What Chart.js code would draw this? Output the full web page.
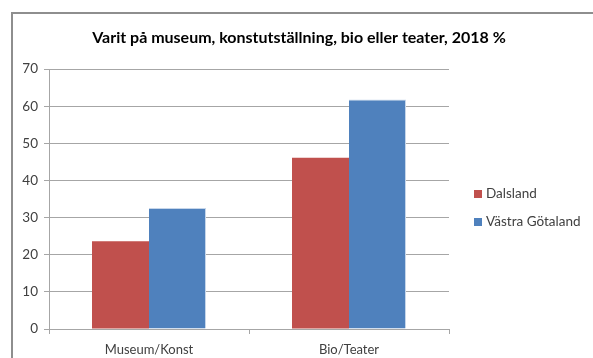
<!DOCTYPE html>
<html>
<head>
<meta charset="utf-8">
<script src="https://cdn.jsdelivr.net/npm/chart.js@4.4.1/dist/chart.umd.min.js"></script>
<style>
    html, body { margin: 0; padding: 0; background: #fff; }
    #wrap { position: relative; width: 593px; height: 358px; overflow: hidden; }
    #frame { position: absolute; left: 11px; top: 12px; width: 700px; height: 400px;
             border-left: 2px solid #8e8e8e; border-top: 2px solid #8e8e8e; box-sizing: border-box; }
    canvas { position: absolute; left: 0; top: 0; }
</style>
</head>
<body>
<div id="wrap">
    <div id="frame"></div>
    <canvas id="barChart" width="593" height="358"></canvas>
</div>
<script>
const titleText = 'Varit på museum, konstutställning, bio eller teater, 2018 %';
const categories = ['Museum/Konst', 'Bio/Teater'];
const dalsland = [23.6, 46.1];
const vastraGotaland = [32.6, 61.8];
const seriesNames = ['Dalsland', 'Västra Götaland'];
const seriesColors = ['#c0504d', '#4f81bd'];

const fontFamily = 'Lato, "Open Sans", sans-serif';
const textColor = '#404040';
const gridColor = '#a6a6a6';

// title centred on the whole frame, not just the plot box
const frameTitle = {
    id: 'frameTitle',
    afterDraw(chart) {
        const ctx = chart.ctx;
        ctx.save();
        ctx.font = 'bold 16px ' + fontFamily;
        ctx.fillStyle = '#000';
        ctx.textAlign = 'center';
        ctx.textBaseline = 'middle';
        ctx.fillText(chart.options.plugins.frameTitle.text, 299, 38);
        ctx.restore();
    }
};

// legend drawn to the right of the plot, one row per dataset
const sideLegend = {
    id: 'sideLegend',
    afterDraw(chart) {
        const ctx = chart.ctx;
        ctx.save();
        ctx.font = '13.5px ' + fontFamily;
        ctx.textBaseline = 'middle';
        ctx.textAlign = 'left';
        chart.data.datasets.forEach((ds, i) => {
            const y = 194 + i * 28;
            ctx.fillStyle = ds.backgroundColor;
            ctx.fillRect(474, y - 4, 8, 8);
            ctx.fillStyle = textColor;
            ctx.fillText(ds.label, 486, y);
        });
        ctx.restore();
    }
};

const ctx = document.getElementById('barChart').getContext('2d');
new Chart(ctx, {
    type: 'bar',
    data: {
        labels: categories,
        datasets: [
            {
                label: seriesNames[0],
                data: dalsland,
                backgroundColor: seriesColors[0],
                barPercentage: 1,
                categoryPercentage: 0.57
            },
            {
                label: seriesNames[1],
                data: vastraGotaland,
                backgroundColor: seriesColors[1],
                borderColor: '#c6d6ea',
                borderWidth: { top: 1, right: 1, left: 0, bottom: 0 },
                barPercentage: 1,
                categoryPercentage: 0.57
            }
        ]
    },
    options: {
        responsive: false,
        animation: false,
        layout: { padding: { left: 11, right: 144, top: 69, bottom: 0 } },
        plugins: {
            legend: { display: false },
            tooltip: { enabled: false },
            title: { display: false },
            frameTitle: { text: titleText }
        },
        scales: {
            x: {
                afterFit(scale) { scale.height = 29; },
                grid: {
                    offset: true,
                    drawOnChartArea: false,
                    color: gridColor,
                    tickLength: 5
                },
                border: { color: gridColor },
                ticks: {
                    color: textColor,
                    padding: 8,
                    font: { family: fontFamily, size: 13 }
                }
            },
            y: {
                min: 0,
                max: 70,
                afterFit(scale) { scale.width = 38; },
                grid: { color: gridColor, tickLength: 5 },
                border: { color: gridColor },
                ticks: {
                    stepSize: 10,
                    color: textColor,
                    padding: 6,
                    font: { family: fontFamily, size: 13.5 }
                }
            }
        }
    },
    plugins: [frameTitle, sideLegend]
});
</script>
</body>
</html>
